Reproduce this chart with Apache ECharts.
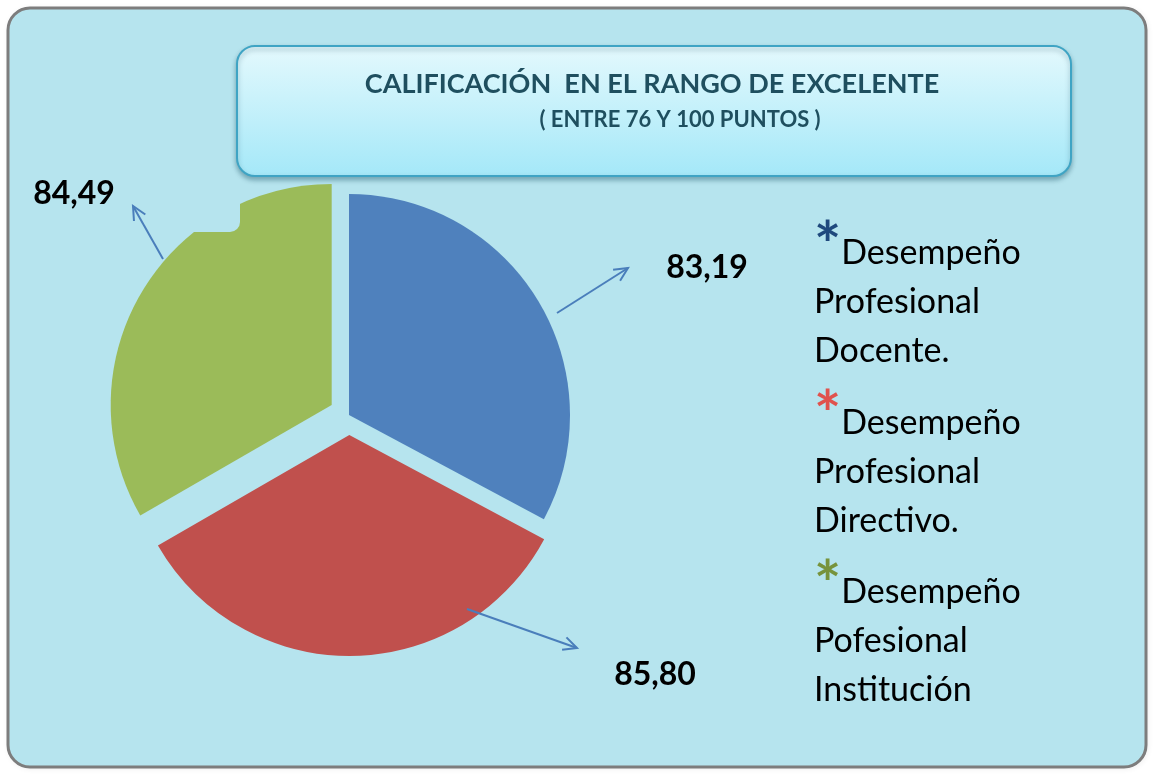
<!DOCTYPE html>
<html>
<head>
<meta charset="utf-8">
<title>Calificación en el rango de excelente</title>
<script src="https://cdn.jsdelivr.net/npm/echarts@6/dist/echarts.min.js"></script>
<style>
html, body { margin: 0; padding: 0; background: #fff; }
#main { width: 1154px; height: 775px; }
</style>
</head>
<body>
<div id="main"></div>
<script>
// datos
var categories = ['Desempeño Profesional Docente.', 'Desempeño Profesional Directivo.', 'Desempeño Pofesional Institución'];
var legendLines = [['Desempeño', 'Profesional', 'Docente.'], ['Desempeño', 'Profesional', 'Directivo.'], ['Desempeño', 'Pofesional', 'Institución']];
var values = [83.19, 85.80, 84.49];
var sliceColors = ['#4f81bd', '#c0504d', '#9bbb59'];
var starColors = ['#1f497d', '#e0524d', '#77933c'];

var BG = '#b6e4ee';
var FONT = 'Lato, "Open Sans", sans-serif';

function fmt(v) {
	return v.toFixed(2).replace('.', ',');
}

// flecha simple (linea + punta abierta)
function arrow(p0, p1) {
	var a = Math.atan2(p1[1] - p0[1], p1[0] - p0[0]);
	var L = 15, w = 0.45;
	var h1 = [p1[0] - L * Math.cos(a - w), p1[1] - L * Math.sin(a - w)];
	var h2 = [p1[0] - L * Math.cos(a + w), p1[1] - L * Math.sin(a + w)];
	return {
		type : 'group',
		children : [ {
			type : 'polyline',
			z : 80,
			shape : { points : [ p0, p1 ] },
			style : { stroke : '#4a7ebb', lineWidth : 2, fill : null }
		}, {
			type : 'polyline',
			z : 80,
			shape : { points : [ h1, p1, h2 ] },
			style : { stroke : '#4a7ebb', lineWidth : 2, fill : null }
		} ]
	};
}

// rotulos de valor
function valueLabel(i, x, y) {
	return {
		type : 'text',
		z : 80,
		x : x,
		y : y,
		style : {
			text : fmt(values[i]),
			fill : '#000',
			font : 'bold 32px ' + FONT,
			align : 'center',
			verticalAlign : 'middle'
		}
	};
}

function star(i) {
	return { color : starColors[i], fontSize : 64, fontWeight : 'bold', fontFamily : FONT, lineHeight : 49, padding : [ 0, 0, 13, 0 ] };
}

// separacion de cada sector (el azul queda en su sitio)
var explode = [ 0, 17, 23 ];

var pieData = categories.map(function(name, i) {
	return {
		name : name,
		value : values[i],
		selected : explode[i] > 0,
		selectedOffset : explode[i],
		itemStyle : { color : sliceColors[i] }
	};
});

var chart = echarts.init(document.getElementById('main'));
var option = {
	animation : false,
	graphic : [ {
		// sombra del marco
		type : 'rect',
		z : -11,
		shape : { x : 9, y : 9, width : 1138, height : 759, r : 22 },
		style : {
			fill : 'rgba(0,0,0,0.25)',
			shadowBlur : 6,
			shadowColor : 'rgba(0,0,0,0.4)'
		}
	}, {
		type : 'rect',
		z : -10,
		shape : { x : 8, y : 8, width : 1138, height : 759, r : 22 },
		style : {
			fill : BG,
			stroke : '#7d7d7d',
			lineWidth : 3
		}
	}, {
		type : 'rect',
		z : -5,
		shape : { x : 237, y : 46, width : 834, height : 130, r : 18 },
		style : {
			fill : new echarts.graphic.LinearGradient(0, 0, 0, 1, [
				{ offset : 0, color : '#e4f9fd' },
				{ offset : 1, color : '#a4e8f8' } ]),
			stroke : '#3fa4c4',
			lineWidth : 2,
			shadowBlur : 5,
			shadowColor : 'rgba(0,60,80,0.35)',
			shadowOffsetY : 3
		}
	}, {
		type : 'text',
		z : 5,
		x : 652,
		y : 84,
		style : {
			text : 'CALIFICACIÓN  EN EL RANGO DE EXCELENTE',
			fill : '#1f4f5f',
			font : 'bold 27px ' + FONT,
			align : 'center',
			verticalAlign : 'middle'
		}
	}, {
		type : 'text',
		z : 5,
		x : 680,
		y : 120,
		style : {
			text : '( ENTRE 76 Y 100 PUNTOS )',
			fill : '#1f4f5f',
			font : 'bold 22px ' + FONT,
			align : 'center',
			verticalAlign : 'middle'
		}
	},
	// caja del rotulo verde que tapa la esquina del sector
	{
		type : 'rect',
		z : 55,
		shape : { x : 10, y : 180, width : 230, height : 52, r : [ 0, 0, 10, 0 ] },
		style : { fill : BG }
	},
	valueLabel(0, 707, 268),
	valueLabel(1, 655, 675),
	valueLabel(2, 74, 194),
	arrow([ 557, 313 ], [ 628, 268 ]),
	arrow([ 467, 609 ], [ 577, 648 ]),
	arrow([ 163, 259 ], [ 133, 206 ]) ],
	legend : {
		orient : 'vertical',
		left : 804,
		top : 210,
		icon : 'none',
		itemWidth : 0,
		itemHeight : 0,
		itemGap : 16,
		selectedMode : false,
		data : categories,
		formatter : function(name) {
			var i = categories.indexOf(name);
			var l = legendLines[i];
			return '{s' + i + '|*}{t|' + l[0] + '}\n{t|' + l[1] + '}\n{t|' + l[2] + '}';
		},
		textStyle : {
			fontFamily : FONT,
			rich : {
				s0 : star(0),
				s1 : star(1),
				s2 : star(2),
				t : { color : '#000', fontSize : 34, fontFamily : FONT, lineHeight : 49 }
			}
		}
	},
	series : [ {
		type : 'pie',
		center : [ 349, 415 ],
		radius : 221,
		startAngle : 90,
		clockwise : true,
		selectedMode : 'multiple',
		selectedOffset : 20,
		silent : true,
		emphasis : { disabled : true },
		data : pieData,
		label : { show : false },
		labelLine : { show : false }
	} ]
};
chart.setOption(option);
</script>
</body>
</html>
